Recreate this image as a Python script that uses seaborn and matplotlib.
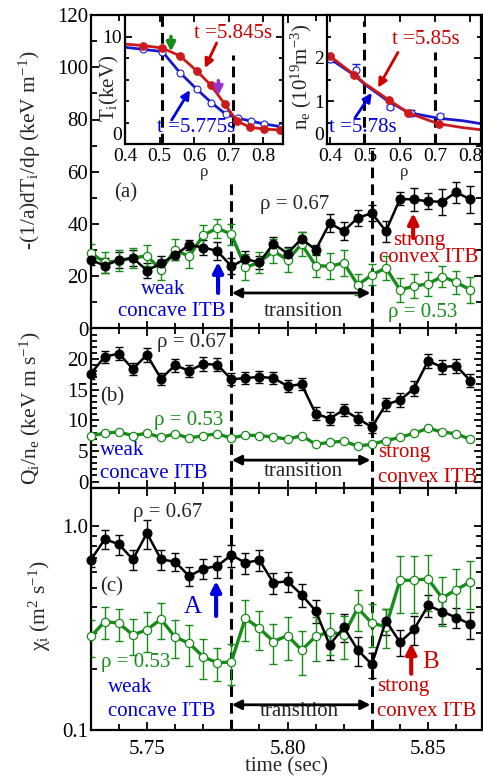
import matplotlib
matplotlib.use("Agg")
import matplotlib.pyplot as plt
from matplotlib.ticker import MultipleLocator, FixedLocator, FuncFormatter, NullFormatter, LogLocator
import seaborn as sns

W, H = 483, 776

# time grid (s)
TIME = [5.730, 5.735, 5.740, 5.745, 5.750, 5.755, 5.760, 5.765, 5.770, 5.775,
        5.780, 5.785, 5.790, 5.795, 5.800, 5.805, 5.810, 5.815, 5.820, 5.825,
        5.830, 5.835, 5.840, 5.845, 5.850, 5.855, 5.860, 5.865]
T_START, T_END = 5.78, 5.83

# (a) -(1/a) dTi/drho
GRAD_067 = [26.2, 24.1, 26.2, 27.0, 22.2, 24.9, 28.1, 32.0, 31.0, 29.7,
            23.8, 26.6, 25.3, 32.5, 28.7, 34.4, 30.1, 40.3, 37.3, 42.4,
            44.1, 37.3, 49.6, 49.4, 48.7, 48.5, 52.2, 49.4]
GRAD_067_ERR = [2.0, 3.0, 3.0, 3.0, 3.0, 3.0, 2.0, 2.0, 3.0, 3.5,
                3.0, 3.0, 2.5, 2.5, 2.5, 2.5, 2.0, 3.5, 3.5, 3.0,
                3.0, 4.0, 2.5, 4.5, 3.0, 5.0, 4.0, 5.0]
GRAD_053 = [28.9, 25.3, 25.9, 27.0, 27.8, 22.4, 30.1, 27.6, 35.7, 38.4,
            36.1, 23.4, 25.3, 29.7, 26.2, 32.3, 24.1, 23.8, 25.1, 16.7,
            20.5, 23.2, 14.8, 16.2, 17.1, 19.9, 17.7, 14.8]
GRAD_053_ERR = [3.5, 4.0, 4.0, 4.0, 4.0, 4.0, 4.0, 4.5, 4.0, 3.6,
                4.0, 5.0, 4.0, 4.5, 4.5, 4.5, 4.5, 5.0, 5.0, 4.0,
                4.0, 4.5, 4.5, 4.5, 4.5, 4.0, 4.5, 5.0]

# (b) Qi/ne
FLUX_067 = [17.6, 20.4, 20.9, 18.4, 20.7, 16.8, 19.0, 18.1, 19.2, 19.1,
            16.7, 16.9, 17.1, 16.9, 15.6, 15.9, 11.1, 10.3, 11.7, 10.3,
            8.9, 12.6, 13.3, 15.2, 19.7, 18.7, 18.9, 16.5]
FLUX_067_ERR = [0.8, 1.0, 1.0, 1.0, 1.1, 1.0, 1.1, 1.0, 1.1, 1.1,
                1.0, 1.0, 1.0, 1.0, 1.0, 1.0, 1.1, 1.0, 1.0, 1.1,
                0.9, 1.1, 1.2, 1.2, 1.1, 1.2, 1.2, 1.1]
FLUX_053 = [7.5, 7.9, 8.1, 7.5, 7.9, 7.2, 7.8, 7.1, 7.5, 7.8,
            7.1, 7.6, 7.5, 7.3, 6.9, 7.5, 6.1, 6.4, 6.6, 5.8,
            6.1, 6.7, 7.2, 7.9, 8.7, 8.1, 7.8, 6.9]

# (c) chi_i
CHI_067 = [0.684, 0.866, 0.818, 0.689, 0.927, 0.689, 0.671, 0.570, 0.620, 0.639,
           0.724, 0.663, 0.684, 0.528, 0.538, 0.462, 0.385, 0.262, 0.320, 0.247,
           0.210, 0.344, 0.270, 0.312, 0.409, 0.382, 0.357, 0.331]
CHI_067_ERR = [0.05, 0.09, 0.09, 0.08, 0.15, 0.08, 0.07, 0.06, 0.07, 0.08,
               0.09, 0.08, 0.08, 0.06, 0.06, 0.06, 0.05, 0.04, 0.05, 0.04,
               0.03, 0.05, 0.04, 0.05, 0.05, 0.05, 0.04, 0.05]
CHI_053 = [0.288, 0.341, 0.335, 0.293, 0.311, 0.350, 0.286, 0.267, 0.229, 0.214,
           0.216, 0.354, 0.316, 0.272, 0.291, 0.247, 0.288, 0.304, 0.293, 0.397,
           0.335, 0.322, 0.544, 0.544, 0.553, 0.445, 0.489, 0.534]
CHI_053_ERR = [0.06, 0.06, 0.06, 0.06, 0.07, 0.07, 0.06, 0.06, 0.05, 0.04,
               0.05, 0.08, 0.07, 0.06, 0.07, 0.06, 0.07, 0.07, 0.07, 0.09,
               0.08, 0.07, 0.17, 0.17, 0.17, 0.12, 0.13, 0.14]

# inset Ti profiles
TI_RHO_A = [0.400, 0.453, 0.508, 0.559, 0.607, 0.648, 0.689, 0.723, 0.761, 0.802, 0.848]
TI_A = [9.3, 9.15, 8.93, 8.19, 6.82, 5.49, 3.69, 2.17, 1.55, 1.40, 1.30]      # t=5.845s
TI_RHO_B = [0.400, 0.453, 0.508, 0.559, 0.607, 0.650, 0.692, 0.728, 0.764, 0.803, 0.851]
TI_B = [9.0, 8.8, 8.6, 6.63, 5.12, 3.84, 2.76, 2.39, 2.14, 1.86, 1.61]        # t=5.775s

# inset ne profiles
NE_FIT_RHO = [0.39, 0.40, 0.469, 0.50, 0.567, 0.624, 0.71, 0.78, 0.833]
NE_FIT_A = [2.08, 2.04, 1.61, 1.40, 1.03, 0.72, 0.47, 0.38, 0.33]            # t=5.85s
NE_FIT_B = [2.02, 1.98, 1.60, 1.38, 0.99, 0.73, 0.60, 0.54, 0.47]            # t=5.78s
NE_RHO_A = [0.40, 0.469, 0.567, 0.624, 0.71]
NE_A = [2.04, 1.61, 1.03, 0.72, 0.47]
NE_RHO_B = [0.40, 0.473, 0.571, 0.63, 0.713]
NE_B = [1.98, 1.71, 0.86, 0.73, 0.64]
NE_B_ERR = [0.08, 0.14, 0.05, 0.07, 0.05]

GREEN = '#188c18'
BLUE = '#0000dd'
RED = '#cc0000'

sns.set_theme(style="ticks")
plt.rcParams.update({
    'font.family': ['Liberation Serif', 'DejaVu Serif'],
    'mathtext.fontset': 'custom',
    'mathtext.rm': 'Liberation Serif',
    'mathtext.it': 'Liberation Serif:italic',
    'font.size': 15,
    'axes.linewidth': 1.6,
    'axes.edgecolor': 'black',
})

fig = plt.figure(figsize=(W / 100, H / 100), dpi=100)


def box(x0, y0, x1, y1):
    return [x0 / W, 1 - y1 / H, (x1 - x0) / W, (y1 - y0) / H]


def label(x, y, s, **kw):
    kw.setdefault('ha', 'center')
    kw.setdefault('va', 'center')
    fig.text(x / W, 1 - y / H, s, **kw)


def arrow(ax, p0, p1, color, lw=3, ms=15, style='-|>'):
    ax.annotate('', xy=p1, xytext=p0,
                arrowprops=dict(arrowstyle=style, color=color, lw=lw,
                                mutation_scale=ms, shrinkA=0, shrinkB=0))


def style_axes(ax, size=15):
    ax.tick_params(which='both', direction='in', top=True, right=True,
                   width=1.3, labelsize=size, pad=2, colors='black')
    ax.tick_params(which='major', length=6)
    ax.tick_params(which='minor', length=4)
    for s in ax.spines.values():
        s.set_linewidth(1.6)
        s.set_color('black')


def draw_pair(ax, y_black, y_green, err_black=None, err_green=None):
    if err_black is not None:
        ax.errorbar(TIME, y_black, yerr=err_black, fmt='none', ecolor='black',
                    elinewidth=1, capsize=3, capthick=1, zorder=2)
    if err_green is not None:
        ax.errorbar(TIME, y_green, yerr=err_green, fmt='none', ecolor=GREEN,
                    elinewidth=1, capsize=3, capthick=1, zorder=2)
    sns.lineplot(x=TIME, y=y_green, ax=ax, color=GREEN, lw=2.4, marker='o', ms=6,
                 mfc='white', mec=GREEN, mew=0.9, clip_on=False, zorder=3)
    sns.lineplot(x=TIME, y=y_black, ax=ax, color='black', lw=1.8, marker='o', ms=6.5,
                 mec='black', clip_on=False, zorder=4)


ax_a = fig.add_axes(box(91, 15, 481.5, 328.5))
ax_b = fig.add_axes(box(91, 328.5, 481.5, 488.3))
ax_c = fig.add_axes(box(91, 488.3, 481.5, 730))

for ax in (ax_a, ax_b, ax_c):
    ax.set_xlim(5.7301, 5.869)
    ax.xaxis.set_major_locator(MultipleLocator(0.05))
    ax.xaxis.set_minor_locator(MultipleLocator(0.01))
    style_axes(ax)
    ax.set_xlabel('')
    ax.set_ylabel('')

dash = dict(color='black', lw=2.2, ls=(0, (3.5, 2)), zorder=1)

# panel (a)
draw_pair(ax_a, GRAD_067, GRAD_053, GRAD_067_ERR, GRAD_053_ERR)
ax_a.set_ylim(0, 120)
ax_a.yaxis.set_major_locator(MultipleLocator(20))
ax_a.yaxis.set_minor_locator(MultipleLocator(10))
ax_a.tick_params(labelbottom=False)
ax_a.axvline(T_START, ymin=0, ymax=56 / 120, **dash)
ax_a.axvline(T_END, **dash)
arrow(ax_a, (5.7753, 13.6), (5.7753, 25.5), BLUE)
arrow(ax_a, (5.8447, 34.6), (5.8447, 44.2), RED)
arrow(ax_a, (5.7802, 13.6), (5.8295, 13.6), 'black', lw=2, ms=14, style='<|-|>')

# panel (b)
draw_pair(ax_b, FLUX_067, FLUX_053, FLUX_067_ERR, None)
ax_b.set_ylim(-1.1, 25)
ax_b.yaxis.set_major_locator(FixedLocator([0, 5, 10, 15, 20]))
ax_b.yaxis.set_minor_locator(MultipleLocator(1))
ax_b.tick_params(labelbottom=False)
ax_b.axvline(T_START, **dash)
ax_b.axvline(T_END, **dash)
arrow(ax_b, (5.7802, 3.5), (5.8295, 3.5), 'black', lw=2, ms=14, style='<|-|>')

# panel (c)
ax_c.set_yscale('log')
draw_pair(ax_c, CHI_067, CHI_053, CHI_067_ERR, CHI_053_ERR)
ax_c.set_ylim(0.1, 1.54)
ax_c.yaxis.set_major_locator(FixedLocator([0.1, 1.0]))
ax_c.yaxis.set_major_formatter(FuncFormatter(lambda v, p: f'{v:.1f}'))
ax_c.yaxis.set_minor_locator(LogLocator(base=10, subs=(0.2, 0.3, 0.4, 0.5, 0.6, 0.7, 0.8, 0.9)))
ax_c.yaxis.set_minor_formatter(NullFormatter())
ax_c.xaxis.set_major_formatter(FuncFormatter(lambda v, p: f'{v:.2f}'))
ax_c.tick_params(axis='x', pad=7)
ax_c.axvline(T_START, **dash)
ax_c.axvline(T_END, **dash)
arrow(ax_c, (5.7746, 0.363), (5.7746, 0.540), BLUE)
arrow(ax_c, (5.844, 0.189), (5.844, 0.267), RED)
arrow(ax_c, (5.7802, 0.133), (5.8295, 0.133), 'black', lw=2, ms=14, style='<|-|>')
ax_c.set_xlabel('time (sec)', fontsize=15, labelpad=-1)

# inset: Ti profiles
ins_t = fig.add_axes(box(125, 15, 283, 144))
style_axes(ins_t, size=14)
sns.lineplot(x=TI_RHO_B, y=TI_B, ax=ins_t, color='#1a1acc', lw=2, marker='o', ms=5,
             mfc='white', mec='#1a1acc', mew=0.8, markevery=list(range(1, len(TI_B))))
sns.lineplot(x=TI_RHO_A, y=TI_A, ax=ins_t, color='#cc1a1a', lw=2, marker='o', ms=5.5,
             mec='#cc1a1a', markevery=list(range(1, len(TI_A))))
ins_t.set_xlim(0.4, 0.857)
ins_t.set_ylim(0, 12)
ins_t.xaxis.set_major_locator(FixedLocator([0.4, 0.5, 0.6, 0.7, 0.8]))
ins_t.yaxis.set_major_locator(FixedLocator([0, 10]))
ins_t.yaxis.set_minor_locator(MultipleLocator(2))
ins_t.tick_params(which='major', length=5)
ins_t.tick_params(which='minor', length=3)
ins_t.tick_params(axis='x', pad=3)
ins_t.axvline(0.508, **dash)
ins_t.axvline(0.713, ymin=0, ymax=8.3 / 12, **dash)
ins_t.set_xlabel('ρ', labelpad=-1)
ins_t.set_ylabel('')
arrow(ins_t, (0.533, 10.0), (0.533, 8.6), GREEN, lw=2.5, ms=13)
arrow(ins_t, (0.670, 5.9), (0.670, 4.5), '#9933cc', lw=2.5, ms=13)
arrow(ins_t, (0.665, 9.4), (0.631, 7.07), RED, lw=2, ms=13)
arrow(ins_t, (0.535, 2.23), (0.588, 5.02), BLUE, lw=2, ms=13)

# inset: ne profiles
ins_n = fig.add_axes(box(326.7, 15, 481.5, 144))
style_axes(ins_n, size=14)
ins_n.errorbar(NE_RHO_B, NE_B, yerr=NE_B_ERR, fmt='none', ecolor='#1a1acc',
               elinewidth=1, capsize=3, capthick=1)
sns.lineplot(x=NE_FIT_RHO, y=NE_FIT_B, ax=ins_n, color='#1a1acc', lw=2)
sns.lineplot(x=NE_RHO_B, y=NE_B, ax=ins_n, color='#1a1acc', lw=0, marker='o', ms=5,
             mfc='white', mec='#1a1acc', mew=0.8)
sns.lineplot(x=NE_FIT_RHO, y=NE_FIT_A, ax=ins_n, color='#cc1a1a', lw=2)
sns.lineplot(x=NE_RHO_A, y=NE_A, ax=ins_n, color='#cc1a1a', lw=0, marker='o', ms=5.5,
             mec='#cc1a1a')
ins_n.set_xlim(0.39, 0.833)
ins_n.set_ylim(0, 3)
ins_n.xaxis.set_major_locator(FixedLocator([0.4, 0.5, 0.6, 0.7, 0.8]))
ins_n.yaxis.set_major_locator(FixedLocator([0, 1, 2]))
ins_n.yaxis.set_minor_locator(MultipleLocator(0.5))
ins_n.tick_params(which='major', length=5)
ins_n.tick_params(which='minor', length=3)
ins_n.tick_params(axis='x', pad=3)
ins_n.axvline(0.497, ymin=0, ymax=2.85 / 3, **dash)
ins_n.axvline(0.700, ymin=0, ymax=2.13 / 3, **dash)
ins_n.set_xlabel('ρ', labelpad=-1)
ins_n.set_ylabel('')
arrow(ins_n, (0.594, 2.13), (0.537, 1.31), RED, lw=2, ms=13)
arrow(ins_n, (0.471, 0.61), (0.519, 1.19), BLUE, lw=2, ms=13)

# the zero labels of the insets sit just above the corner, as in the original
for ins in (ins_t, ins_n):
    ins.yaxis.get_major_ticks()[0].label1.set_verticalalignment('bottom')

# axis titles
label(30, 150, r'-(1/a)dT$_{\rm i}$/dρ (keV m$^{-1}$)', rotation=90, fontsize=15.5)
label(30, 408, r'Q$_{\rm i}$/n$_{\rm e}$ (keV m s$^{-1}$)', rotation=90, fontsize=15.5)
label(40, 606, r'χ$_{\rm i}$ (m$^{2}$ s$^{-1}$)', rotation=90, fontsize=15.5)
label(109, 88, r'T$_{\rm i}$(keV)', rotation=90, fontsize=15)
label(301, 77, r'n$_{\rm e}$ (10$^{19}$m$^{-3}$)', rotation=90, fontsize=15)

# inset annotations
label(233, 33, 't =5.845s', color=RED)
label(196, 127, 't =5.775s', color=BLUE)
label(426, 40, 't =5.85s', color=RED)
label(363, 128, 't =5.78s', color=BLUE)

# panel (a) annotations
label(126, 193, '(a)')
label(295, 205, 'ρ = 0.67')
label(163, 290, 'weak', color=BLUE)
label(172, 312, 'concave ITB', color=BLUE)
label(303, 312, 'transition')
label(423, 312, 'ρ = 0.53', color=GREEN)
label(419, 240, 'strong', color=RED)
label(429, 258, 'convex ITB', color=RED)

# panel (b) annotations
label(192, 342, 'ρ = 0.67')
label(112, 397, '(b)')
label(189, 420, 'ρ = 0.53', color=GREEN)
label(100, 450, 'weak', color=BLUE, ha='left')
label(100, 473, 'concave ITB', color=BLUE, ha='left')
label(303, 472, 'transition')
label(378, 453, 'strong', color=RED, ha='left')
label(378, 477, 'convex ITB', color=RED, ha='left')

# panel (c) annotations
label(168, 512, 'ρ = 0.67')
label(112, 587, '(c)')
label(193, 607, 'A', color=BLUE, fontsize=18)
label(136, 663, 'ρ = 0.53', color=GREEN)
label(108, 687, 'weak', color=BLUE, ha='left')
label(108, 712, 'concave ITB', color=BLUE, ha='left')
label(299, 712, 'transition')
label(377, 687, 'strong', color=RED, ha='left')
label(377, 712, 'convex ITB', color=RED, ha='left')
label(431, 662, 'B', color=RED, fontsize=18)

fig.savefig('out.png', dpi=100)
